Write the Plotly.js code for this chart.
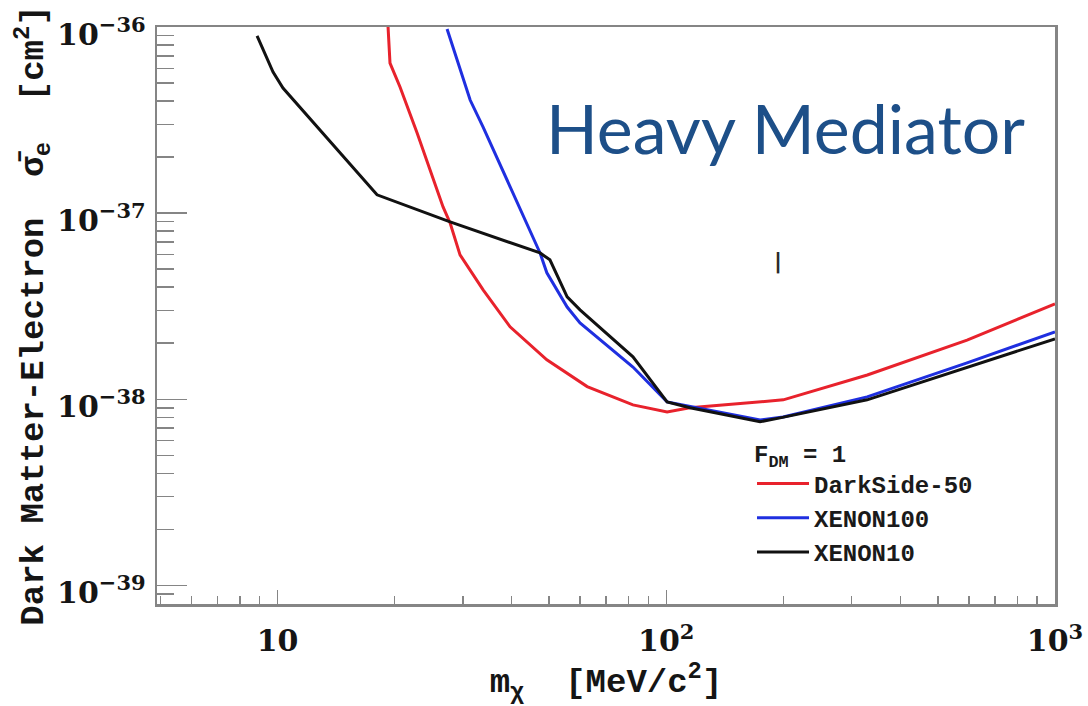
<!DOCTYPE html>
<html>
<head>
<meta charset="utf-8">
<script src="https://cdn.plot.ly/plotly-3.0.1.min.js"></script>
<style>
  html, body { margin: 0; padding: 0; background: #ffffff; }
  #chart { width: 1088px; height: 706px; }
</style>
</head>
<body>
<div id="chart"></div>
<script>
// Dark matter mass (MeV/c^2) and electron cross-section limits (cm^2)
const massDarkSide = [19.2, 19.47, 20.66, 22.85, 26.66, 27.8, 29.48, 33.8, 39.65, 49.3, 62.6, 82.1, 100.5, 115, 200, 329, 594, 1000];
const sigmaDarkSide = [1.1e-36, 6.4e-37, 4.76e-37, 2.7e-37, 1.08e-37, 8.85e-38, 5.97e-38, 3.87e-38, 2.45e-38, 1.63e-38, 1.17e-38, 9.33e-39, 8.55e-39, 9.0e-39, 9.93e-39, 1.35e-38, 2.08e-38, 3.25e-38];

const massXenon100 = [27.3, 31.3, 33.8, 47.35, 49.3, 55.6, 60.0, 82.1, 100.5, 174.3, 199.8, 328.6, 594, 1000];
const sigmaXenon100 = [9.76e-37, 4.05e-37, 2.9e-37, 6.11e-38, 4.78e-38, 3.13e-38, 2.57e-38, 1.49e-38, 9.68e-39, 7.74e-39, 8.03e-39, 1.03e-38, 1.57e-38, 2.30e-38];

const massXenon10 = [8.86, 9.74, 10.33, 18.03, 27.8, 47.35, 50.2, 55.6, 60.0, 82.1, 100.5, 115.1, 174.3, 196.3, 328.6, 594, 1000];
const sigmaXenon10 = [8.95e-37, 5.73e-37, 4.70e-37, 1.254e-37, 8.97e-38, 6.11e-38, 5.61e-38, 3.55e-38, 3.02e-38, 1.69e-38, 9.68e-39, 9.0e-39, 7.57e-39, 7.94e-39, 9.93e-39, 1.49e-38, 2.11e-38];

const seriesNames = ['DarkSide-50', 'XENON100', 'XENON10'];
const seriesColors = ['#e8222c', '#1f2fe0', '#111111'];

const monoFont = 'Liberation Mono, Courier New, monospace';
const serifFont = 'DejaVu Serif, serif';

const traces = [
  { x: massDarkSide, y: sigmaDarkSide },
  { x: massXenon100, y: sigmaXenon100 },
  { x: massXenon10, y: sigmaXenon10 }
].map((d, i) => ({
  type: 'scatter',
  mode: 'lines',
  x: d.x,
  y: d.y,
  name: seriesNames[i],
  line: { color: seriesColors[i], width: 3 }
}));

const axisCommon = {
  type: 'log',
  dtick: 1,
  exponentformat: 'power',
  showgrid: false,
  zeroline: false,
  showline: true,
  mirror: true,
  linecolor: '#858585',
  linewidth: 2.5,
  ticks: 'inside',
  tickcolor: '#858585',
  tickwidth: 1.5,
  tickfont: { family: serifFont, size: 24, weight: 'bold', color: '#151515' }
};

const layout = {
  width: 1088,
  height: 706,
  margin: { l: 157, r: 33, t: 27, b: 102 },
  paper_bgcolor: '#ffffff',
  plot_bgcolor: '#ffffff',
  showlegend: true,
  xaxis: Object.assign({}, axisCommon, {
    range: [0.69, 3],
    ticklen: 14,
    minor: { ticks: 'inside', dtick: 'D1', ticklen: 8, tickcolor: '#858585', tickwidth: 1.5 },
    ticklabelstandoff: 10,
    title: {
      text: 'm<sub>χ</sub>  [MeV/c<sup>2</sup>]',
      font: { family: monoFont, size: 34, weight: 'bold', color: '#151515' },
      standoff: 14
    }
  }),
  yaxis: Object.assign({}, axisCommon, {
    range: [-39.1, -36],
    ticklen: 30,
    minor: { ticks: 'inside', dtick: 'D1', ticklen: 17, tickcolor: '#858585', tickwidth: 1.5 },
    ticklabelstandoff: 4,
    ticklabelshift: 7,
    title: {
      text: 'Dark Matter-Electron  σ̄<sub>e</sub>  [cm<sup>2</sup>]',
      font: { family: monoFont, size: 34, weight: 'bold', color: '#151515' },
      standoff: 0
    }
  }),
  legend: {
    x: 0.6626,
    y: 0.301,
    xanchor: 'left',
    yanchor: 'top',
    itemwidth: 52,
    bgcolor: 'rgba(255,255,255,0)',
    borderwidth: 0,
    font: { family: monoFont, size: 24, weight: 'bold', color: '#1a1a1a' },
    title: { text: 'F<sub>DM</sub> = 1', font: { family: monoFont, size: 24, weight: 'bold', color: '#1a1a1a' } }
  },
  annotations: [
    {
      xref: 'paper', yref: 'paper',
      x: 0.70, y: 0.825,
      xanchor: 'center', yanchor: 'middle',
      text: 'Heavy Mediator',
      showarrow: false,
      font: { family: 'Lato, sans-serif', size: 68, color: '#1d4f88' }
    },
    {
      xref: 'paper', yref: 'paper',
      x: 0.6915, y: 0.5945,
      xanchor: 'center', yanchor: 'middle',
      text: '|',
      showarrow: false,
      font: { family: 'DejaVu Sans, sans-serif', size: 22, weight: 'bold', color: '#2a2a2a' }
    }
  ]
};

Plotly.newPlot('chart', traces, layout, { staticPlot: true, displayModeBar: false });
</script>
</body>
</html>
